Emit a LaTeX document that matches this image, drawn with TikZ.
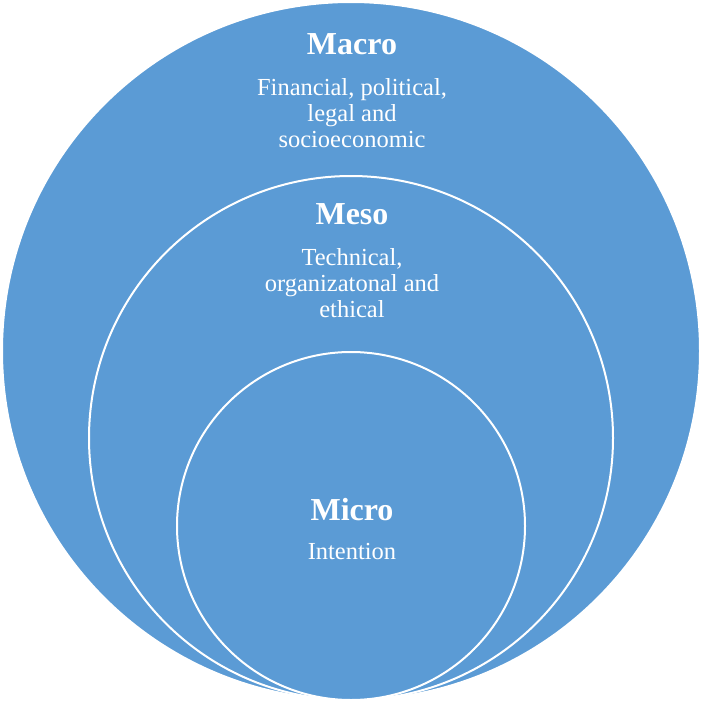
\documentclass[tikz,border=0pt]{standalone}
\usepackage{fontspec}
\setmainfont{Liberation Serif}
\usepackage{tikz}
\usetikzlibrary{positioning}
\definecolor{ringblue}{HTML}{5B9BD5}

\begin{document}
\begin{tikzpicture}[
  x=1pt, y=-1pt,
  ring/.style={circle, fill=ringblue, draw=white, line width=2pt, inner sep=0pt},
  title/.style={text=white, font=\fontsize{32}{34}\selectfont\bfseries},
  desc/.style={text=white, align=center, font=\fontsize{24.5}{26}\selectfont}
]
\useasboundingbox (0,0) rectangle (704,704);

% three nested rings, all touching at the bottom
\node[ring, minimum size=698pt] (macro) at (351,351) {};
\node[ring, minimum size=524pt] (meso) at (351,438) {};
\node[ring, minimum size=348pt] (micro) at (351,526) {};

\node[title] (macroT) at (352,44) {Macro};
\node[desc] (macroD) at (352,113) {Financial, political,\\legal and\\socioeconomic};

\node[title] (mesoT) at (352,214) {Meso};
\node[desc] (mesoD) at (352,283) {Technical,\\organizatonal and\\ethical};

\node[title] (microT) at (352,510) {Micro};
\node[desc] (microD) at (352,552) {Intention};
\end{tikzpicture}
\end{document}
